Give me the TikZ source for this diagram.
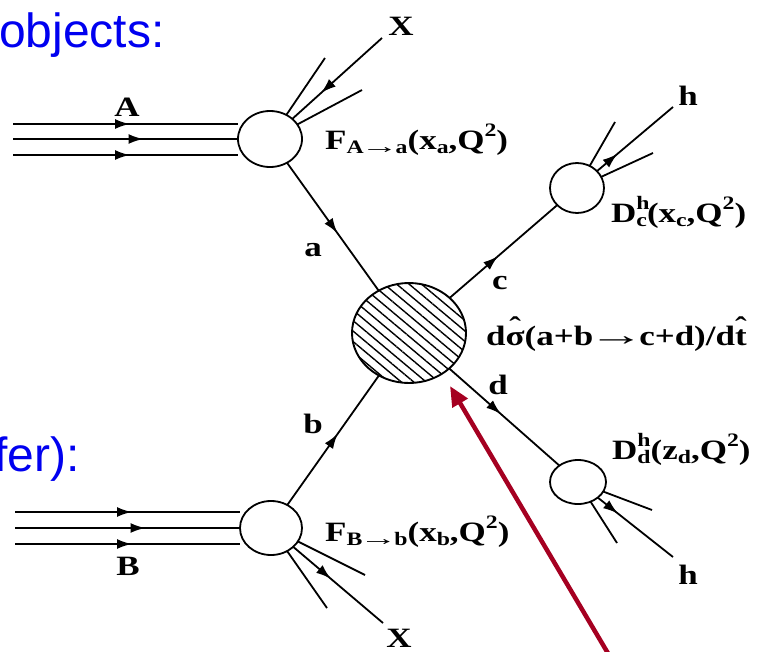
\documentclass[tikz,border=0pt]{standalone}
\usepackage{fontspec}
\setmainfont{Liberation Serif}
\newfontfamily\bluefont{Liberation Sans}
\newfontfamily\lblfont{Liberation Serif}[FakeStretch=1.25]
\usetikzlibrary{shapes.geometric,decorations.markings,arrows.meta,patterns.meta}
\definecolor{slideblue}{RGB}{0,0,240}
\definecolor{arrowred}{RGB}{165,0,33}
\newcommand\sbs[1]{\raisebox{-0.38ex}{\fontsize{19}{19}\selectfont #1}}
\newcommand\sps[1]{\raisebox{0.95ex}{\fontsize{19}{19}\selectfont #1}}
\newcommand\hatover[1]{\leavevmode\setbox0\hbox{#1}\rlap{\hbox to\wd0{\hss\raisebox{9pt}{ˆ}\hss}}\box0}
\newcommand\tightarrow[1]{\kern-#1\scalebox{1.6}[1.1]{→}\kern-#1}
\begin{document}
\begin{tikzpicture}[x=1pt,y=-1pt,
  lab/.style={font=\lblfont\bfseries\fontsize{28}{30}\selectfont, inner sep=0pt},
  blob/.style={ellipse, draw, line width=1.8pt, inner sep=0pt, outer sep=0pt, fill=white},
  ln/.style={line width=1.8pt},
  beam/.style={line width=2.3pt},
  midarr/.style={postaction={decorate}, decoration={markings, mark=at position #1 with {\arrow{Latex[length=15pt,width=10pt]}}}},
  redarr/.style={draw=arrowred, line width=4.5pt, -{Triangle[length=20pt,width=17pt]}}
]
\useasboundingbox (0,0) rectangle (766,651);

% blue slide text
\node[font=\bluefont\fontsize{48}{50}\selectfont, text=slideblue, anchor=base west, inner sep=0pt] (t1) at (-1,47) {objects:};
\node[font=\bluefont\fontsize{48}{50}\selectfont, text=slideblue, anchor=base east, inner sep=0pt] (t2) at (80,471) {fer):};

% blobs
\node[blob, minimum width=64pt, minimum height=56pt] (cA) at (270,139) {};
\node[blob, minimum width=62pt, minimum height=54pt] (cB) at (271,528) {};
\node[blob, minimum width=54pt, minimum height=50pt] (cC) at (577,188) {};
\node[blob, minimum width=56pt, minimum height=44pt] (cD) at (578,482) {};
\node[ellipse, draw, line width=1.9pt, inner sep=0pt, outer sep=0pt, minimum width=114pt, minimum height=100pt,
      pattern={Lines[angle=-40,distance=8pt,line width=1.4pt]}] (cH) at (409,333) {};

% beams A
\coordinate (a1) at (13,124);
\coordinate (a2) at (13,139);
\coordinate (a3) at (13,155);
\draw[beam, midarr=0.52] (a1) -- (a1 -| cA.west);
\draw[beam, midarr=0.58] (a2) -- (a2 -| cA.west);
\draw[beam, midarr=0.52] (a3) -- (a3 -| cA.west);
% beams B
\coordinate (b1) at (15,512);
\coordinate (b2) at (15,528);
\coordinate (b3) at (15,544);
\draw[beam, midarr=0.52] (b1) -- (b1 -| cB.west);
\draw[beam, midarr=0.58] (b2) -- (b2 -| cB.west);
\draw[beam, midarr=0.52] (b3) -- (b3 -| cB.west);

% partons
\draw[ln, midarr=0.55] (cA) -- (cH);
\draw[ln, midarr=0.55] (cB) -- (cH);
\draw[ln, midarr=0.45] (cH) -- (cC);
\draw[ln, midarr=0.47] (cH) -- (cD);

% remnants A
\coordinate (xa1) at (325,58);
\coordinate (xa2) at (382,38);
\coordinate (xa3) at (362,90);
\draw[ln] (cA) -- (xa1);
\draw[ln, midarr=0.68] (xa2) -- (cA);
\draw[ln] (cA) -- (xa3);
% remnants B
\coordinate (xb1) at (365,575);
\coordinate (xb2) at (383,623);
\coordinate (xb3) at (327,608);
\draw[ln] (cB) -- (xb1);
\draw[ln, midarr=0.42] (cB) -- (xb2);
\draw[ln] (cB) -- (xb3);
% fragments c
\coordinate (hc1) at (615,122);
\coordinate (hc2) at (673,107);
\coordinate (hc3) at (653,153);
\draw[ln] (cC) -- (hc1);
\draw[ln, midarr=0.27] (cC) -- (hc2);
\draw[ln] (cC) -- (hc3);
% fragments d
\coordinate (hd1) at (652,510);
\coordinate (hd2) at (673,557);
\coordinate (hd3) at (617,543);
\draw[ln] (cD) -- (hd1);
\draw[ln, midarr=0.27] (cD) -- (hd2);
\draw[ln] (cD) -- (hd3);

% labels
\node[lab] (lA) at (127,107) {A};
\node[lab] (lB) at (128,566) {B};
\node[lab] (lX1) at (401,26) {X};
\node[lab] (lX2) at (399,638) {X};
\node[lab] (lh1) at (688,96) {h};
\node[lab] (lh2) at (688,575) {h};
\node[lab] (la) at (313,250) {a};
\node[lab] (lb) at (313,424) {b};
\node[lab] (lc) at (500,283) {c};
\node[lab] (ld) at (498,385) {d};

\node[lab, anchor=base west] (fA) at (325,149) {F\sbs{A\tightarrow{3pt}a}(x\sbs{a},Q\sps{2})};
\node[lab, anchor=base west] (fB) at (325,541) {F\sbs{B\tightarrow{3pt}b}(x\sbs{b},Q\sps{2})};
\node[lab, anchor=base west] (dC) at (611,222) {D\rlap{\sps{h}}\sbs{c}(x\sbs{c},Q\sps{2})};
\node[lab, anchor=base west] (dD) at (612,459) {D\rlap{\sps{h}}\sbs{d}(z\sbs{d},Q\sps{2})};
\node[lab, anchor=base west] (sig) at (486,345) {d\hatover{σ}(a+b\tightarrow{5pt}c+d)/d\hatover{t}};

% red pointer
\coordinate (rs) at (609,655);
\coordinate (rt) at (450,386);
\draw[redarr] (rs) -- (rt);
\end{tikzpicture}
\end{document}
